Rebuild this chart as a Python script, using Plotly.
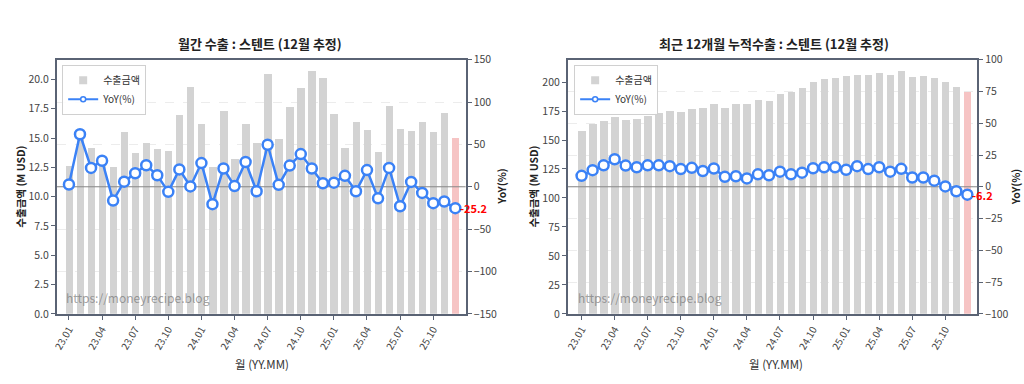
import plotly.graph_objects as go

months = ["23.01","23.02","23.03","23.04","23.05","23.06","23.07","23.08","23.09","23.10","23.11","23.12",
          "24.01","24.02","24.03","24.04","24.05","24.06","24.07","24.08","24.09","24.10","24.11","24.12",
          "25.01","25.02","25.03","25.04","25.05","25.06","25.07","25.08","25.09","25.10","25.11","25.12"]

monthly_export = [12.65, 14.9, 14.2, 12.7, 12.57, 15.57, 13.74, 14.56, 14.13, 13.93, 17.02, 19.34,
                  16.26, 12.57, 17.3, 13.2, 16.2, 14.6, 20.5, 14.9, 17.7, 19.3, 20.7, 20.16,
                  17.08, 14.2, 16.4, 15.7, 13.85, 17.76, 15.8, 15.6, 16.4, 15.5, 17.2, 15.0]
monthly_yoy = [2.7, 62.0, 22.3, 30.7, -16.3, 6.0, 16.0, 25.4, 13.6, -6.0, 20.5, 0.4,
               28.0, -20.5, 21.6, 0.8, 29.2, -5.3, 49.6, 2.3, 25.0, 38.6, 21.6, 4.2,
               4.9, 12.9, -5.3, 19.7, -13.6, 22.3, -23.0, 5.7, -7.2, -19.3, -17.4, -25.2]

ttm_export = [158.2, 164.5, 166.7, 170.0, 167.3, 168.7, 170.6, 173.6, 175.6, 174.7, 177.0, 177.8,
              181.1, 177.8, 181.1, 181.1, 184.7, 183.9, 190.2, 191.3, 195.0, 200.0, 203.2, 204.0,
              205.2, 206.5, 206.0, 208.2, 206.0, 209.6, 204.6, 205.2, 204.0, 200.0, 196.3, 191.6]
ttm_yoy = [8.6, 13.1, 16.9, 21.7, 16.7, 15.4, 16.9, 16.9, 16.2, 13.9, 14.9, 12.4,
           14.4, 7.8, 8.3, 6.6, 9.8, 9.1, 11.9, 9.8, 11.1, 14.6, 15.4, 15.4,
           13.4, 16.2, 13.9, 15.4, 11.9, 14.1, 7.3, 7.3, 4.8, 0.3, -3.5, -6.2]

tick_labels = months[::3]
titles = ["월간 수출 : 스텐트 (12월 추정)", "최근 12개월 누적수출 : 스텐트 (12월 추정)"]

FONT = "Noto Sans CJK KR"
BLUE = "#3b82f6"
FRAME = "#5a6374"
GRAY_BAR = "#d3d3d3"
PINK_BAR = "#f6c4c4"

W, H = 1024, 384
def px(xp):
    return xp / W
def py(yp):
    return (H - yp) / H

idx = list(range(len(months)))
bar_colors = [GRAY_BAR] * (len(months) - 1) + [PINK_BAR]

fig = go.Figure()

panels = [
    dict(bars=monthly_export, yoy=monthly_yoy, xa="x", ya="y", ya2="y2", legend="legend",
         xdom=[px(51), px(462.5)], xrange=[-1.11, 35.95], yrange=[0, 21.68], ydtick=2.5, yfmt=".1f",
         y2range=[-150, 150], y2dtick=50, title=titles[0]),
    dict(bars=ttm_export, yoy=ttm_yoy, xa="x2", ya="y3", ya2="y4", legend="legend2",
         xdom=[px(565), px(977)], xrange=[-1.26, 35.9], yrange=[0, 219.3], ydtick=25, yfmt="d",
         y2range=[-100, 100], y2dtick=25, title=titles[1]),
]

ydom = [py(318.3), py(53.8)]

for p in panels:
    fig.add_trace(go.Bar(x=idx, y=p["bars"], marker=dict(color=bar_colors, line=dict(width=0)),
                         width=0.68, name="수출금액", xaxis=p["xa"], yaxis=p["ya"], showlegend=False))
    fig.add_trace(go.Scatter(x=p["xrange"], y=[0, 0], mode="lines", line=dict(color="#888888", width=1),
                             xaxis=p["xa"], yaxis=p["ya2"], showlegend=False, hoverinfo="skip"))
    fig.add_trace(go.Scatter(x=idx, y=p["yoy"], mode="lines+markers", name="YoY(%)",
                             line=dict(color=BLUE, width=2.5),
                             marker=dict(size=10, color="white", line=dict(color=BLUE, width=2.5)),
                             xaxis=p["xa"], yaxis=p["ya2"], showlegend=False))
    fig.add_trace(go.Scatter(x=[None], y=[None], mode="markers", name="수출금액",
                             marker=dict(symbol="square", size=8, color=GRAY_BAR),
                             xaxis=p["xa"], yaxis=p["ya"], legend=p["legend"], showlegend=True))
    fig.add_trace(go.Scatter(x=[None], y=[None], mode="lines+markers", name="YoY(%)",
                             line=dict(color=BLUE, width=2),
                             marker=dict(size=5, color="white", line=dict(color=BLUE, width=1.5)),
                             xaxis=p["xa"], yaxis=p["ya2"], legend=p["legend"], showlegend=True))

def xaxis_cfg(p):
    return dict(domain=p["xdom"], range=p["xrange"], tickmode="array", tickvals=idx[::3],
                ticktext=tick_labels, tickangle=-60, showgrid=False, zeroline=False,
                showline=True, linecolor=FRAME, linewidth=1.5, mirror=True,
                ticks="outside", ticklen=4, tickcolor=FRAME,
                tickfont=dict(family=FONT, size=10, color="#444"))

def yaxis_cfg(p, xa):
    return dict(domain=ydom, range=p["yrange"], dtick=p["ydtick"], tick0=0, tickformat=p["yfmt"],
                anchor=xa, showgrid=False, zeroline=False, showline=True, linecolor=FRAME,
                linewidth=1.5, ticks="outside", ticklen=4, tickcolor=FRAME,
                tickfont=dict(family=FONT, size=10.5, color="#444"))

def yaxis2_cfg(p, xa, ya):
    return dict(range=p["y2range"], dtick=p["y2dtick"], tick0=0, anchor=xa, overlaying=ya,
                side="right", showgrid=True, gridcolor="#ececec", griddash="dash", gridwidth=1,
                zeroline=False, showline=True, linecolor=FRAME, linewidth=1.5,
                ticks="outside", ticklen=4, tickcolor=FRAME,
                tickfont=dict(family=FONT, size=10.5, color="#444"))

fig.update_layout(
    xaxis=xaxis_cfg(panels[0]),
    yaxis=yaxis_cfg(panels[0], "x"),
    yaxis2=yaxis2_cfg(panels[0], "x", "y"),
    xaxis2=xaxis_cfg(panels[1]),
    yaxis3=yaxis_cfg(panels[1], "x2"),
    yaxis4=yaxis2_cfg(panels[1], "x2", "y3"),
)

leg_common = dict(bgcolor="rgba(255,255,255,0.9)", bordercolor="#d0d0d0", borderwidth=1,
                  font=dict(family=FONT, size=10, color="#333"), xanchor="left", yanchor="top",
                  tracegroupgap=0, itemwidth=30)
fig.update_layout(
    legend=dict(x=px(56.5), y=py(59), **leg_common),
    legend2=dict(x=px(571.5), y=py(59), **leg_common),
)

annotations = []
centers = [255.5, 772.5]
ylab_left_x = [15, 531]
ylab_right_x = [499, 1015.5]
wm_x = [58, 573]
for i, p in enumerate(panels):
    common = dict(xref="paper", yref="paper", showarrow=False, xanchor="center", yanchor="middle")
    annotations.append(dict(text=f"<b>{p['title']}</b>", x=px(centers[i]), y=py(37),
                            font=dict(family=FONT, size=13, color="#222"), **common))
    annotations.append(dict(text="월 (YY.MM)", x=px(centers[i] + 2), y=py(370),
                            font=dict(family=FONT, size=11.5, color="#333"), **common))
    annotations.append(dict(text="<b>수출금액 (M USD)</b>", x=px(ylab_left_x[i]), y=py(186),
                            textangle=-90, font=dict(family=FONT, size=10.5, color="#222"), **common))
    annotations.append(dict(text="<b>YoY(%)</b>", x=px(ylab_right_x[i]), y=py(186),
                            textangle=-90, font=dict(family=FONT, size=10.5, color="#222"), **common))
    annotations.append(dict(text="https://moneyrecipe.blog", x=px(wm_x[i]), y=py(301.5),
                            xref="paper", yref="paper", showarrow=False, xanchor="left", yanchor="middle",
                            font=dict(family=FONT, size=12, color="rgba(110,110,110,0.65)")))
    annotations.append(dict(text=f"<b>{p['yoy'][-1]:.1f}</b>", x=idx[-1], y=p["yoy"][-1],
                            xref=p["xa"], yref=p["ya2"], showarrow=False, xanchor="left", yanchor="middle",
                            xshift=3, font=dict(family=FONT, size=11, color="red")))

fig.update_layout(
    annotations=annotations,
    width=W, height=H,
    margin=dict(l=0, r=0, t=0, b=0),
    plot_bgcolor="white", paper_bgcolor="white",
    bargap=0, showlegend=True,
    font=dict(family=FONT),
)

fig.write_html("out.html", config={"displayModeBar": False},
               post_script="document.body.style.margin='0';document.body.style.overflow='hidden';")
